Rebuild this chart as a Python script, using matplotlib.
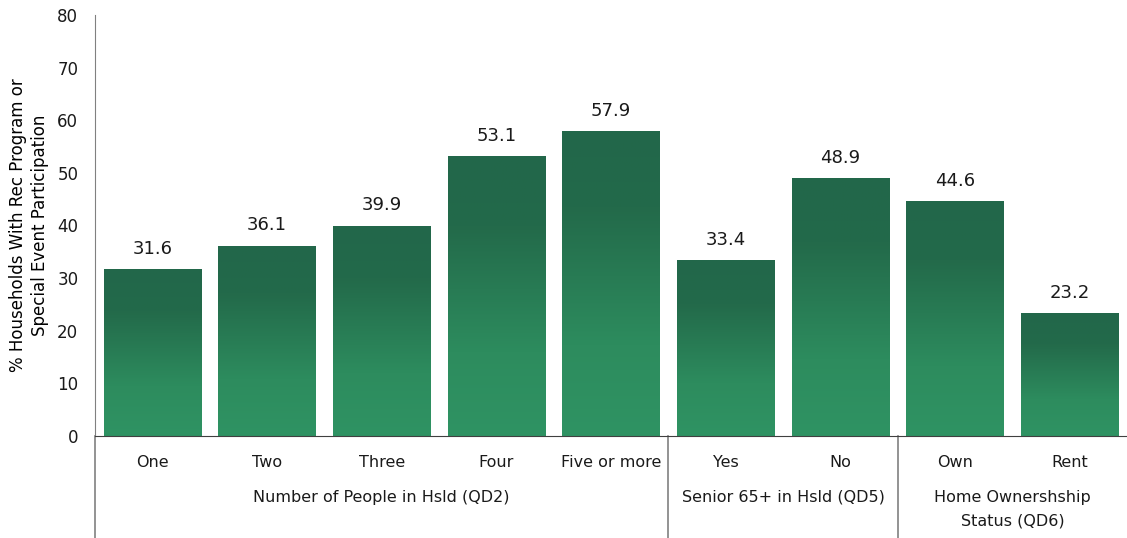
import numpy as np
import matplotlib
matplotlib.use("Agg")
import matplotlib.pyplot as plt
from matplotlib.colors import LinearSegmentedColormap
from matplotlib.transforms import blended_transform_factory

# ---- data ----
categories = ["One", "Two", "Three", "Four", "Five or more", "Yes", "No", "Own", "Rent"]
values = [31.6, 36.1, 39.9, 53.1, 57.9, 33.4, 48.9, 44.6, 23.2]
groups = ["Number of People in Hsld (QD2)", "Senior 65+ in Hsld (QD5)", "Home Ownershship\nStatus (QD6)"]
group_sizes = [5, 2, 2]

plt.rcParams["font.family"] = ["DejaVu Sans"]

fig = plt.figure(figsize=(11.27, 5.38), dpi=100)
ax = fig.add_axes([0.0843, 0.1896, 0.9157, 0.7826])

x = np.arange(len(categories))
bars = ax.bar(x, values, width=0.85, color="none", edgecolor="none", zorder=2)

# vertical gradient inside each bar: dark green on top, lighter towards the base
cmap = LinearSegmentedColormap.from_list(
    "greens", [(0.0, "#2f9363"), (0.3, "#2d8c5e"), (0.75, "#236a4a"), (1.0, "#22674a")])
grad = np.linspace(0, 1, 256).reshape(-1, 1)
for b in bars:
    x0, w, h = b.get_x(), b.get_width(), b.get_height()
    ax.imshow(grad, cmap=cmap, origin="lower", aspect="auto",
              extent=(x0, x0 + w, 0, h), zorder=2, interpolation="bilinear")

for xi, v in zip(x, values):
    ax.text(xi, v + 2.2, f"{v:.1f}", ha="center", va="bottom", fontsize=13, color="#1a1a1a")

ax.set_xlim(-0.5, len(categories) - 0.5)
ax.set_ylim(0, 80)
ax.set_yticks(range(0, 81, 10))
ax.tick_params(axis="y", length=0, labelsize=12, pad=12, colors="#1a1a1a")
ax.set_xticks(x)
ax.set_xticklabels(categories)
ax.tick_params(axis="x", length=0, labelsize=11.5, pad=14, colors="#1a1a1a")

for side in ["top", "right"]:
    ax.spines[side].set_visible(False)
ax.spines["left"].set_color("#808080")
ax.spines["bottom"].set_color("#404040")

ax.set_ylabel("% Households With Rec Program or\nSpecial Event Participation", fontsize=12,
              labelpad=6, linespacing=1.3)

# group labels and separators below the axis
trans = blended_transform_factory(ax.transData, ax.transAxes)
ax.plot([-0.5, -0.5], [0, -0.245], transform=trans, color="#808080", lw=1.2, clip_on=False)
start = 0
for name, n in zip(groups, group_sizes):
    center = start + (n - 1) / 2
    ax.text(center, -0.128, name, transform=trans, ha="center", va="top",
            fontsize=11.5, color="#1a1a1a", linespacing=1.75)
    start += n
    if start < len(categories):
        ax.plot([start - 0.5, start - 0.5], [0, -0.245], transform=trans,
                color="#808080", lw=1.2, clip_on=False)

fig.savefig("out.png", dpi=100)
